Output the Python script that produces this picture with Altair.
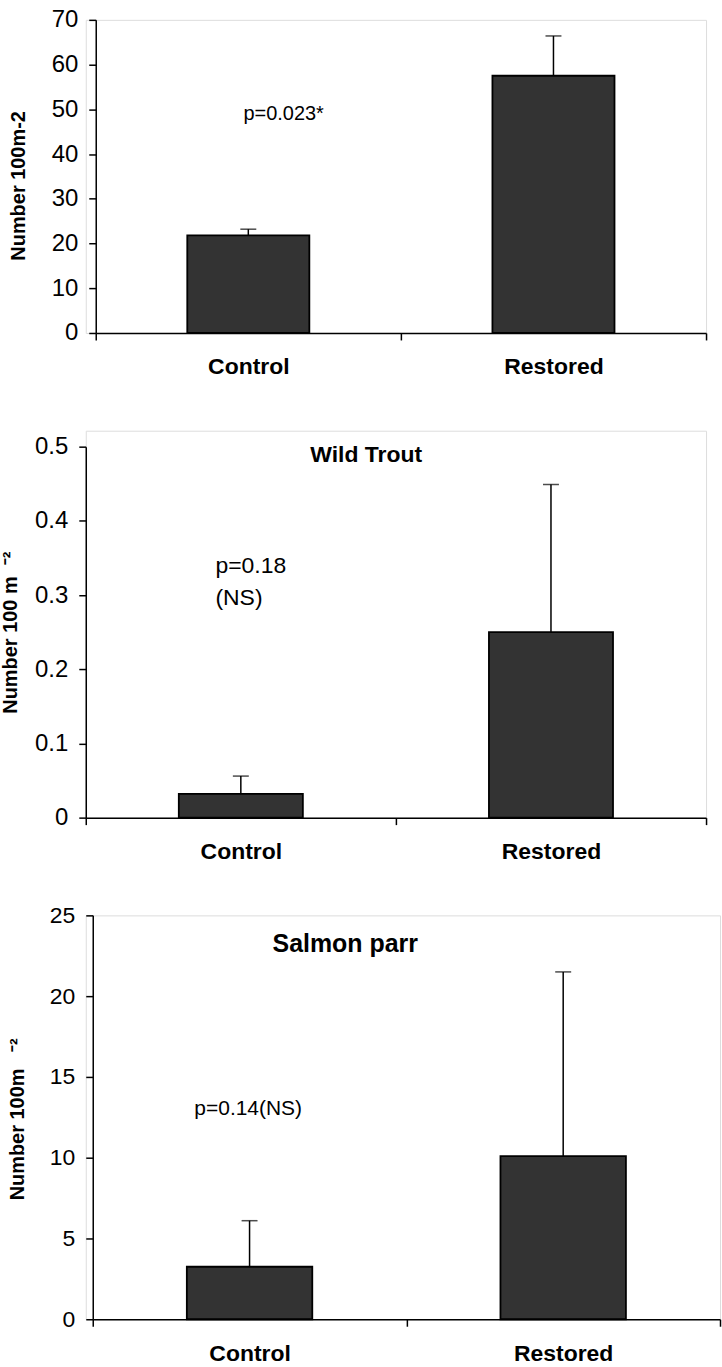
import altair as alt
import pandas as pd

FONT = "Liberation Sans"

groups = ["Control", "Restored"]

# Top panel: total density
p1_means = [21.8, 57.5]
p1_errs = [1.4, 8.9]
p1_ticks = [0, 10, 20, 30, 40, 50, 60, 70]
p1_ytitle = "Number 100m-2"
p1_notes = ["p=0.023*"]
p1_note_x = [0.484]
p1_note_y = [49.0]

# Middle panel: wild trout
p2_title = "Wild Trout"
p2_means = [0.032, 0.25]
p2_errs = [0.024, 0.199]
p2_ticks = [0, 0.1, 0.2, 0.3, 0.4, 0.5]
p2_ytitle = "Number 100 m\u00a0\u00a0\u207b\u00b2"
p2_notes = ["p=0.18", "(NS)"]
p2_note_x = [0.418, 0.418]
p2_note_y = [0.339, 0.296]

# Bottom panel: salmon parr
p3_title = "Salmon parr"
p3_means = [3.25, 10.1]
p3_errs = [2.85, 11.4]
p3_ticks = [0, 5, 10, 15, 20, 25]
p3_ytitle = "Number 100m\u00a0\u00a0\u00a0\u207b\u00b2"
p3_notes = ["p=0.14(NS)"]
p3_note_x = [0.324]
p3_note_y = [13.0]

BAR_LO, BAR_HI = 0.3, 0.7


def bar_table(means, errs):
    rows = []
    for i, (g, m, e) in enumerate(zip(groups, means, errs)):
        rows.append({"group": g, "lo": i + BAR_LO, "hi": i + BAR_HI,
                     "mid": i + 0.5, "mean": m, "top": m + e, "zero": 0})
    return pd.DataFrame(rows)


def panel(means, errs, ticks, ytitle, notes, note_x, note_y, note_size,
          width, height, xrange, yrange, yoffset, title_x, title_y,
          tick_size_font, title=None, title_pos=None, title_size=22):
    df = bar_table(means, errs)
    xscale = alt.Scale(domain=[0, 2], range=xrange, nice=False, zero=False)
    yscale = alt.Scale(domain=[ticks[0], ticks[-1]], range=yrange, nice=False)

    label_expr = " : ".join(
        f"datum.value == {i + 0.5} ? '{g}'" for i, g in enumerate(groups)
    ) + " : ''"
    mid_test = " || ".join(f"datum.value == {i + 0.5}" for i in range(len(groups)))

    xaxis = alt.Axis(
        values=[0, 0.5, 1, 1.5, 2], labelExpr=label_expr, title=None,
        grid=False, tickSize=7, tickColor="black", tickWidth=1.5,
        tickOpacity={"condition": {"test": mid_test, "value": 0}, "value": 1},
        domainColor="black", domainWidth=1.5, labelColor="black",
        labelFontSize=23, labelFontWeight="bold", labelPadding=16,
        labelOverlap=False, labelFlush=False, labelFont=FONT,
    )
    yaxis = alt.Axis(
        values=ticks, grid=False, tickSize=7, tickColor="black", tickWidth=1.5,
        domainColor="black", domainWidth=1.5, labelColor="black",
        labelFontSize=tick_size_font, labelFont=FONT, labelPadding=11,
        format="~f", offset=yoffset,
        title=ytitle, titleFont=FONT, titleFontSize=20, titleFontWeight="bold",
        titleColor="black", titleX=title_x, titleY=title_y,
        titleBaseline="middle", titleAngle=270,
    )

    base = alt.Chart(df)
    bars = base.mark_rect(fill="#333333", stroke="black", strokeWidth=1.8).encode(
        x=alt.X("lo:Q", scale=xscale, axis=xaxis),
        x2="hi:Q",
        y=alt.Y("mean:Q", scale=yscale, axis=yaxis),
        y2="zero:Q",
    )
    stems = base.mark_rule(color="black", strokeWidth=1.5).encode(
        x=alt.X("mid:Q", scale=xscale), y=alt.Y("mean:Q", scale=yscale), y2="top:Q"
    )
    caps = base.mark_tick(orient="horizontal", size=16, thickness=1.5,
                          color="black").encode(
        x=alt.X("mid:Q", scale=xscale), y=alt.Y("top:Q", scale=yscale)
    )
    notes_df = pd.DataFrame({"x": note_x, "y": note_y, "text": notes})
    note_layer = alt.Chart(notes_df).mark_text(
        align="left", baseline="middle", font=FONT, fontSize=note_size,
        color="black"
    ).encode(
        x=alt.X("x:Q", scale=xscale), y=alt.Y("y:Q", scale=yscale), text="text:N"
    )
    layers = [bars, stems, caps, note_layer]
    if title is not None:
        tdf = pd.DataFrame({"x": [title_pos[0]], "y": [title_pos[1]], "text": [title]})
        layers.append(
            alt.Chart(tdf).mark_text(
                align="center", baseline="middle", font=FONT,
                fontSize=title_size, fontWeight="bold", color="black"
            ).encode(
                x=alt.X("x:Q", scale=xscale), y=alt.Y("y:Q", scale=yscale),
                text="text:N"
            )
        )
    return alt.layer(*layers).properties(width=width, height=height)


top = panel(p1_means, p1_errs, p1_ticks, p1_ytitle, p1_notes, p1_note_x,
            p1_note_y, 20, width=622, height=314, xrange=[10, 622],
            yrange=[314, 0], yoffset=-10, title_x=-77, title_y=166,
            tick_size_font=24)

middle = panel(p2_means, p2_errs, p2_ticks, p2_ytitle, p2_notes, p2_note_x,
               p2_note_y, 23, width=622, height=388, xrange=[0, 622],
               yrange=[388, 16], yoffset=0, title_x=-75, title_y=202,
               tick_size_font=24, title=p2_title, title_pos=(0.904, 0.489),
               title_size=23)

bottom = panel(p3_means, p3_errs, p3_ticks, p3_ytitle, p3_notes, p3_note_x,
               p3_note_y, 21, width=636, height=405, xrange=[7, 636],
               yrange=[405, 0], yoffset=-7, title_x=-75, title_y=204,
               tick_size_font=23, title=p3_title, title_pos=(0.805, 23.2),
               title_size=25)

chart = alt.vconcat(top, middle, bottom, spacing=98, bounds="flush").properties(
    padding={"left": 0, "top": 5, "right": 0, "bottom": 5},
    background="white",
).configure_view(stroke=None).configure(font=FONT)

chart.save("out.html", embed_options={"renderer": "svg", "actions": False})
